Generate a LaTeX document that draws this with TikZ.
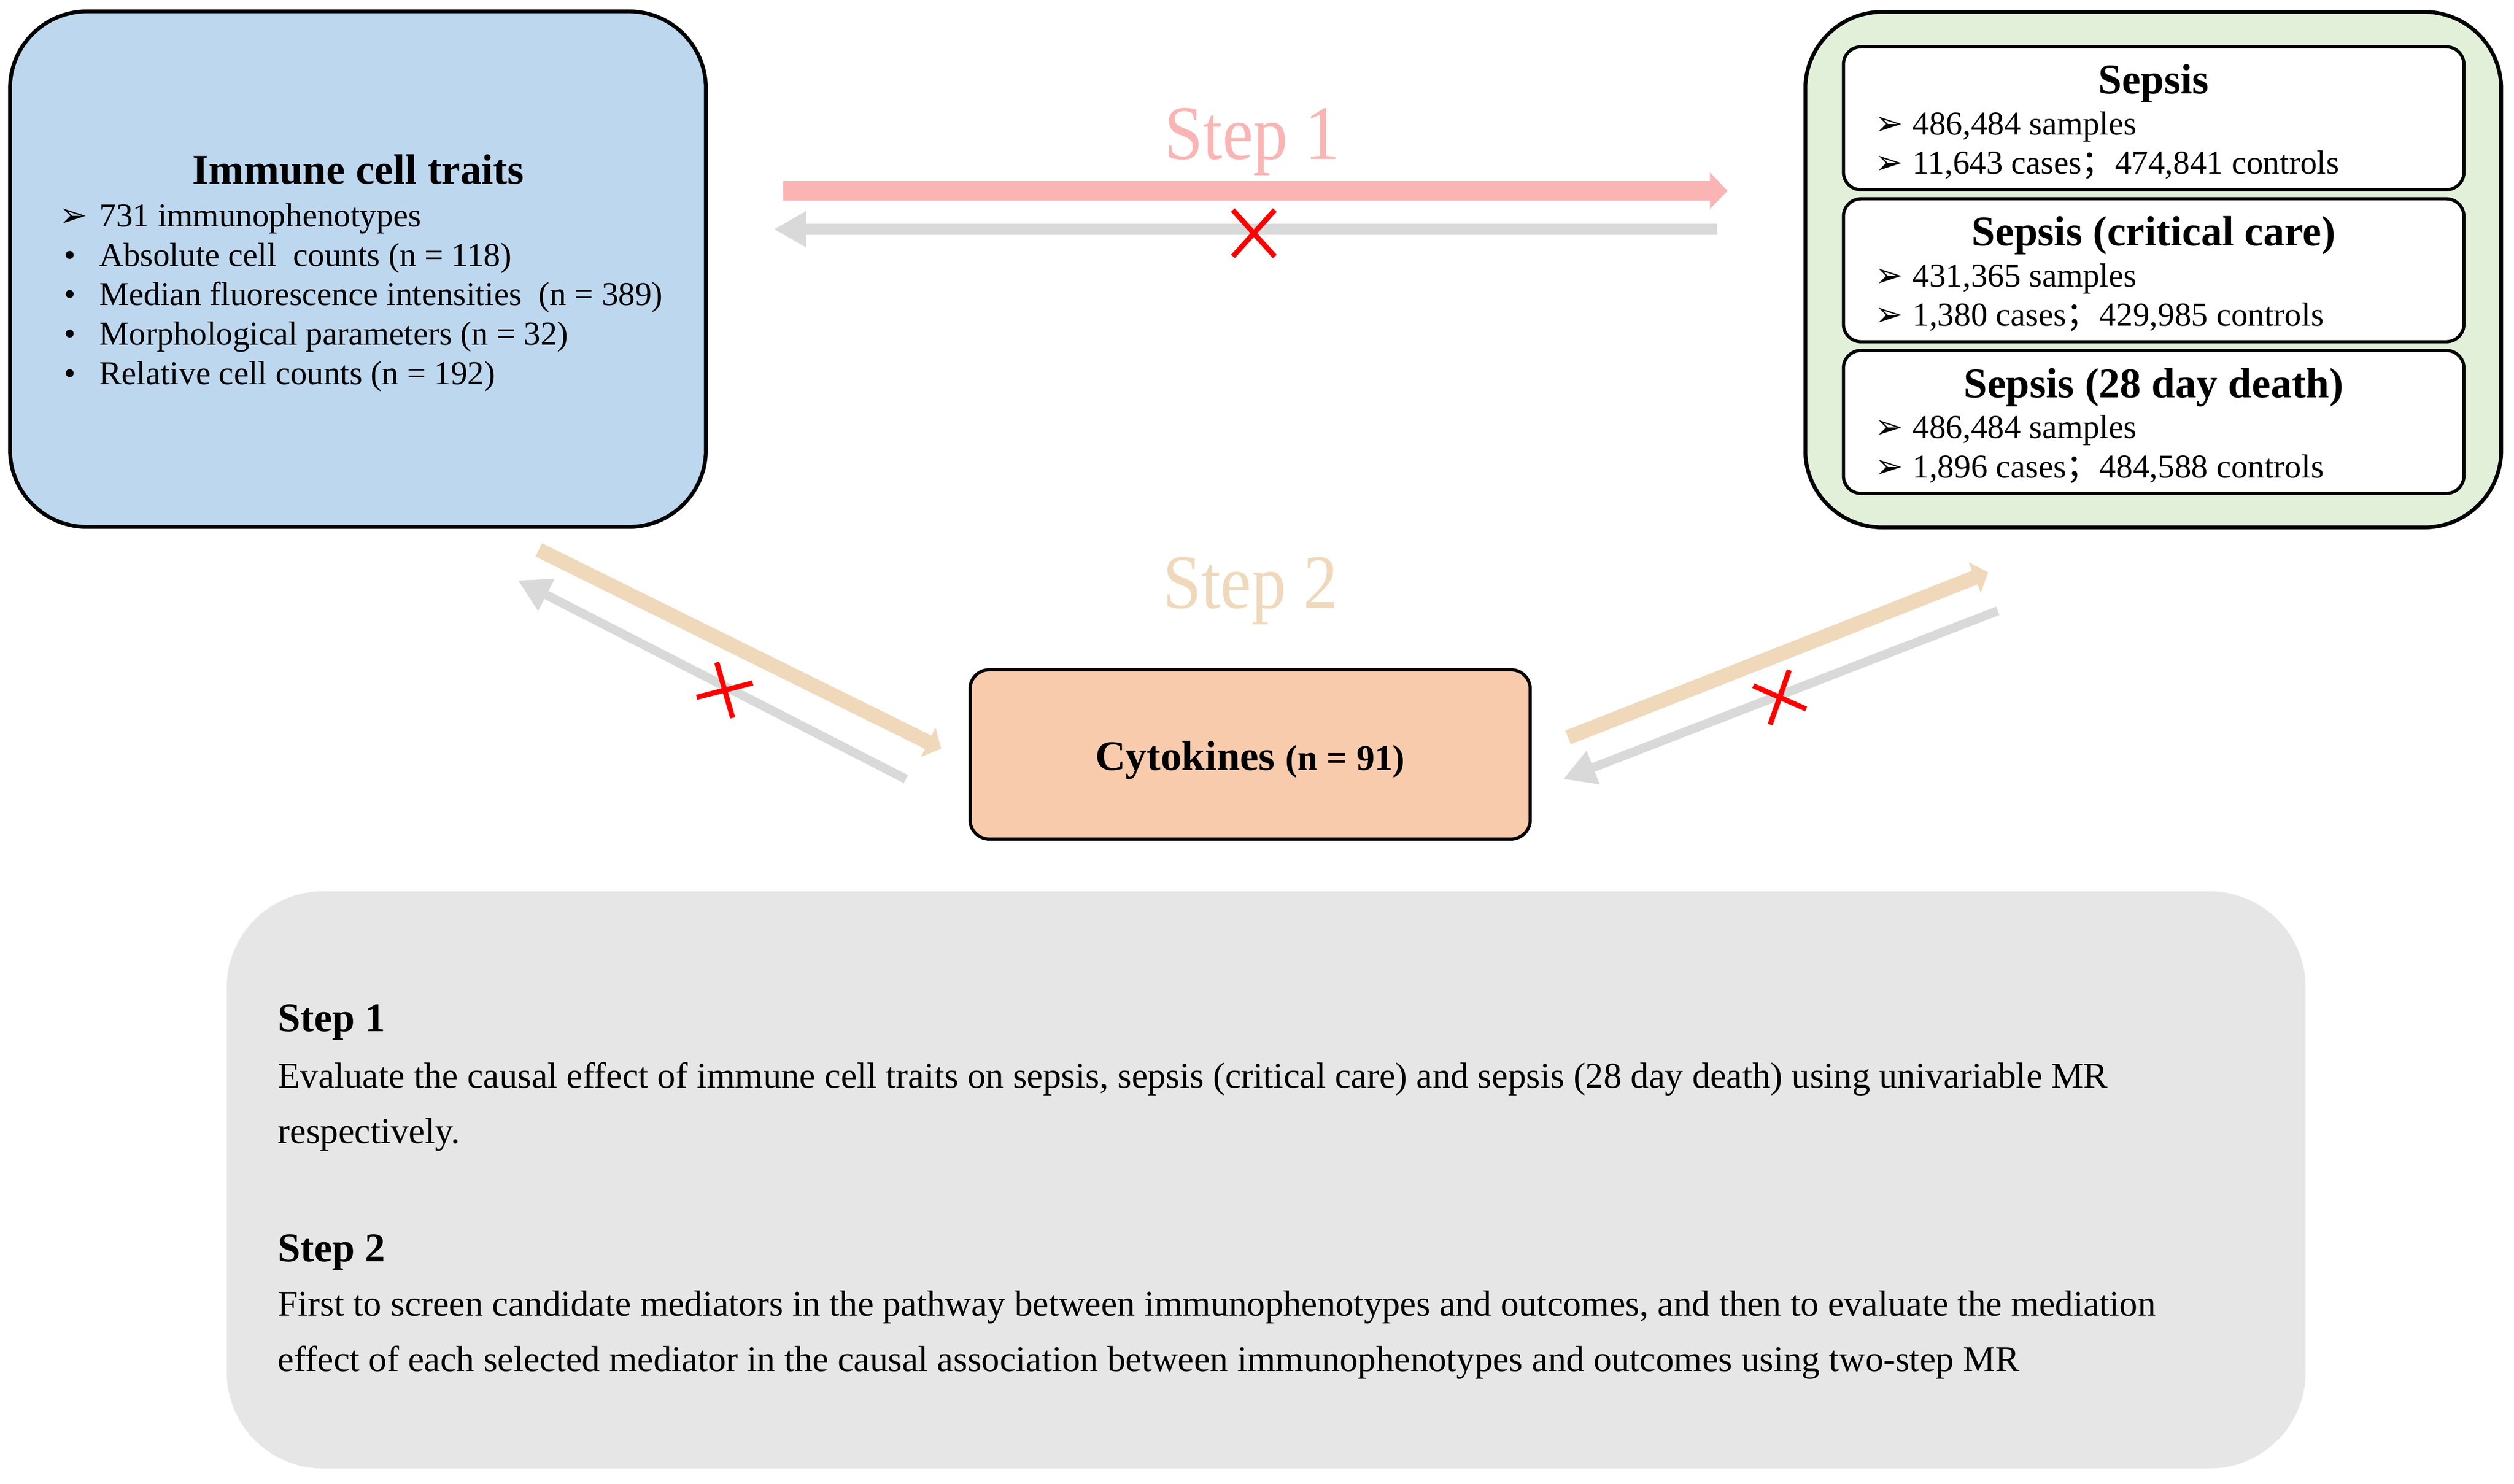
\documentclass[tikz,border=0pt]{standalone}
\usepackage{fontspec}
\setmainfont{Liberation Serif}
\newfontfamily\symfont{DejaVu Sans}
\newfontfamily\cjkfont{Noto Sans CJK SC}
\newfontfamily\stepfont[FakeStretch=0.9]{Liberation Serif}
\usetikzlibrary{arrows.meta, calc, positioning}
\definecolor{immuneBlue}{RGB}{189,215,238}
\definecolor{sepsisGreen}{RGB}{226,240,217}
\definecolor{cytoOrange}{RGB}{248,203,173}
\definecolor{noteGray}{RGB}{231,230,230}
\definecolor{stepPink}{RGB}{250,180,180}
\definecolor{stepTan}{RGB}{240,216,186}
\definecolor{blockGray}{RGB}{217,217,217}
\tikzset{
    bigBox/.style={draw=black, line width=1.2pt, rounded corners=24pt, minimum width=217pt, minimum height=160.8pt, inner sep=0pt},
    sepsisBox/.style={draw=black, line width=1pt, fill=white, rounded corners=5.5pt, minimum width=193.5pt, minimum height=44.6pt, inner sep=0pt},
    cytoBox/.style={draw=black, line width=1pt, fill=cytoOrange, rounded corners=6pt, minimum width=174.7pt, minimum height=52.8pt, text height=10pt, text depth=0pt, font=\fontsize{13.1}{15}\selectfont\bfseries},
    noteBox/.style={fill=noteGray, rounded corners=30pt, minimum width=648.3pt, minimum height=180pt, inner sep=0pt},
    titleText/.style={font=\fontsize{13.2}{15}\selectfont\bfseries, inner sep=0pt, anchor=base},
    listText/.style={font=\fontsize{10.4}{12.3}\selectfont, inner sep=0pt, anchor=base west},
    stepLabel/.style={font=\stepfont\fontsize{24}{28}\selectfont, inner sep=0pt, anchor=base},
    noteHead/.style={font=\fontsize{12.7}{15}\selectfont\bfseries, inner sep=0pt, anchor=base west},
    noteText/.style={font=\fontsize{11.3}{17.2}\selectfont, inner sep=0pt, anchor=base west},
    pinkArrow/.style={-{Triangle[length=5.5pt, width=11pt]}, line width=6pt, stepPink},
    tanArrow/.style={-{Triangle[length=4.5pt, width=10pt]}, line width=4.6pt, stepTan},
    grayArrow/.style={-{Triangle[length=10pt, width=10.5pt]}, line width=3.5pt, blockGray},
    crossLine/.style={red, line width=1.6pt},
}
\newcommand{\arrowItem}[1][12.5pt]{\makebox[#1][l]{\symfont\fontsize{10.5}{12}\selectfont ➢}}
\newcommand{\dotItem}{\makebox[12.5pt][l]{\hspace{1.5pt}\textbullet}}
\newcommand{\fullSemi}{{\cjkfont ；}}
\newcommand{\drawSepsis}[5]{
    % inner white box with title and two lines
    \node[sepsisBox] (#1) at (1343.25, #2) {};
    \node[titleText] (#1Title) at ($(#1)+(0,-15.3)$) {#3};
    \node[listText] (#1List) at ($(#1.west)+(20.3,10.2)$) {\begin{tabular}[t]{@{}l@{}}\arrowItem[11.7pt]#4\\ \arrowItem[11.7pt]#5\end{tabular}};
}
\newcommand{\drawCross}[4]{
    \draw[crossLine] ($(#1)+(#2:#4)$) -- ($(#1)+(#2+180:#4)$);
    \draw[crossLine] ($(#1)+(#3:#4)$) -- ($(#1)+(#3+180:#4)$);
}
\begin{document}
\begin{tikzpicture}[x=0.5pt, y=-0.5pt]
        \useasboundingbox (0,0) rectangle (1568,925.4);

        % exposure and outcome boxes
        \node[bigBox, fill=immuneBlue] (immune) at (223.25,167.9) {};
        \node[bigBox, fill=sepsisGreen] (sepsis) at (1343,168.2) {};

        \node[titleText] (immuneTitle) at (223.4,114.6) {Immune cell traits};
        \node[listText] (immuneList) at (36.7,141.4) {\begin{tabular}[t]{@{}l@{}}
            \arrowItem 731 immunophenotypes\\
            \dotItem Absolute cell\ \ counts (n = 118)\\
            \dotItem Median fluorescence intensities\ \ (n = 389)\\
            \dotItem Morphological parameters (n = 32)\\
            \dotItem Relative cell counts (n = 192)
        \end{tabular}};

        \drawSepsis{sepsisAll}{73.8}{Sepsis}{486,484 samples}{11,643 cases\fullSemi474,841 controls}
        \drawSepsis{sepsisCrit}{168.6}{Sepsis (critical care)}{431,365 samples}{1,380 cases\fullSemi429,985 controls}
        \drawSepsis{sepsisDeath}{263.2}{Sepsis (28 day death)}{486,484 samples}{1,896 cases\fullSemi484,588 controls}

        % mediator
        \node[cytoBox] (cyto) at (779.7,470.6) {Cytokines {\fontsize{11.3}{13}\selectfont (n = 91)}};

        % step labels
        \node[stepLabel, text=stepPink] (stepOne) at (781,99.3) {Step 1};
        \node[stepLabel, text=stepTan] (stepTwo) at (780,379.4) {Step 2};

        % arrow ends
        \coordinate (oneTail) at (488.6,119);
        \coordinate (oneHead) at (1077.5,119);
        \coordinate (oneBackTail) at (1071,143);
        \coordinate (oneBackHead) at (482.7,143);
        \coordinate (leftTail) at (336,343);
        \coordinate (leftHead) at (587,467);
        \coordinate (leftBackTail) at (565,486);
        \coordinate (leftBackHead) at (323,362);
        \coordinate (rightTail) at (978,460);
        \coordinate (rightHead) at (1240,357);
        \coordinate (rightBackTail) at (1246,381);
        \coordinate (rightBackHead) at (975,486);

        \draw[pinkArrow] (oneTail) -- (oneHead);
        \draw[grayArrow] (oneBackTail) -- (oneBackHead);
        \draw[tanArrow] (leftTail) -- (leftHead);
        \draw[grayArrow, line width=2.8pt] (leftBackTail) -- (leftBackHead);
        \draw[tanArrow] (rightTail) -- (rightHead);
        \draw[grayArrow, line width=2.8pt] (rightBackTail) -- (rightBackHead);

        % blocked directions
        \coordinate (crossTop) at (782,145.5);
        \coordinate (crossLeft) at (452,430.5);
        \coordinate (crossRight) at (1110,435);
        \drawCross{crossTop}{48}{132}{19.5}
        \drawCross{crossLeft}{74}{-14.4}{18}
        \drawCross{crossRight}{109.4}{23.8}{18}

        % notes
        \node[noteBox] (note) at (789.7,736) {};
        \node[noteHead] (noteOne) at (173,643.3) {Step 1};
        \node[noteText] (noteOneText) at (173,678.7) {\begin{tabular}[t]{@{}l@{}}
            Evaluate the causal effect of immune cell traits on sepsis, sepsis (critical care) and sepsis (28 day death) using univariable MR\\
            respectively.
        \end{tabular}};
        \node[noteHead] (noteTwo) at (173,787) {Step 2};
        \node[noteText] (noteTwoText) at (173,821) {\begin{tabular}[t]{@{}l@{}}
            First to screen candidate mediators in the pathway between immunophenotypes and outcomes, and then to evaluate the mediation\\
            effect of each selected mediator in the causal association between immunophenotypes and outcomes using two-step MR
        \end{tabular}};

    \end{tikzpicture}
\end{document}
